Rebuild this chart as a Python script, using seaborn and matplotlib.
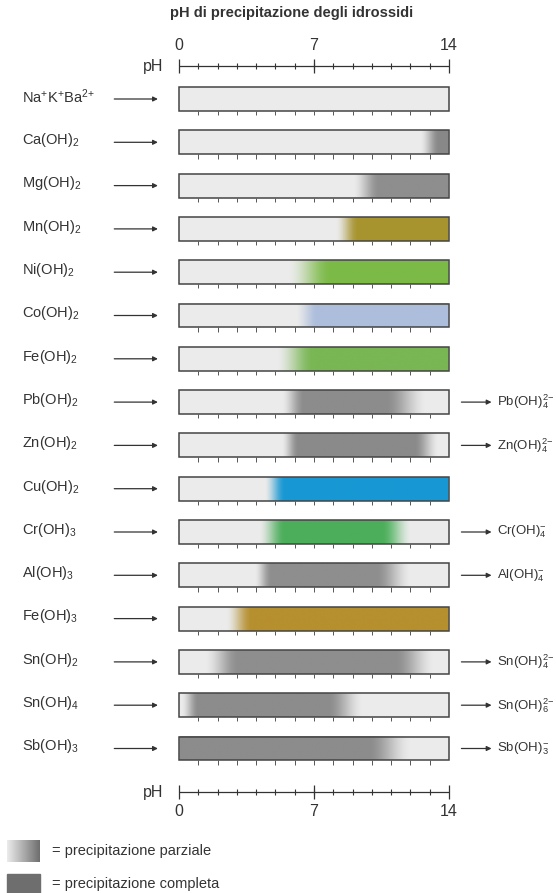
import numpy as np
import seaborn as sns
import matplotlib.pyplot as plt
from matplotlib import font_manager

# hydroxide rows, top to bottom
names = ["Na$^{+}$K$^{+}$Ba$^{2{+}}$", "Ca(OH)$_2$", "Mg(OH)$_2$", "Mn(OH)$_2$", "Ni(OH)$_2$",
         "Co(OH)$_2$", "Fe(OH)$_2$", "Pb(OH)$_2$", "Zn(OH)$_2$", "Cu(OH)$_2$",
         "Cr(OH)$_3$", "Al(OH)$_3$", "Fe(OH)$_3$", "Sn(OH)$_2$", "Sn(OH)$_4$", "Sb(OH)$_3$"]
# pH where partial precipitation starts, complete starts, complete ends, partial ends
p_start = [np.nan, 12.5, 9.0, 8.1, 5.6, 6.0, 5.0, 5.3, 5.3, 4.4, 4.1, 3.9, 2.4, 1.3, 0.1, 0.0]
c_start = [np.nan, 13.5, 10.4, 9.3, 7.9, 7.2, 7.0, 6.5, 6.2, 5.5, 5.5, 4.8, 3.8, 3.1, 1.0, 0.0]
c_end = [np.nan, 14, 14, 14, 14, 14, 14, 10.7, 12.2, 14, 10.5, 10.2, 14, 11.2, 7.7, 9.8]
p_end = [np.nan, 14, 14, 14, 14, 14, 14, 12.9, 13.5, 14, 12.1, 12.1, 14, 13.3, 9.6, 12.1]
colors = ["#8c8c8c", "#888888", "#8e8e8e", "#a8942f", "#7cba47", "#adbedc", "#79b654",
          "#8c8c8c", "#8a8a8a", "#1798d4", "#4cae5a", "#8e8e8e", "#b68f2e", "#8e8e8e",
          "#8c8c8c", "#8c8c8c"]
complexes = [None, None, None, None, None, None, None, "Pb(OH)$_4^{2{-}}$", "Zn(OH)$_4^{2{-}}$",
             None, "Cr(OH)$_4^{{-}}$", "Al(OH)$_4^{{-}}$", None, "Sn(OH)$_4^{2{-}}$",
             "Sn(OH)$_6^{2{-}}$", "Sb(OH)$_3^{{-}}$"]
ph_labels = [0, 7, 14]

sns.set_theme(style="white")
installed = {f.name for f in font_manager.fontManager.ttflist}
narrow = "Liberation Sans Narrow" if "Liberation Sans Narrow" in installed else "Liberation Sans"
plt.rcParams["font.family"] = [narrow, "DejaVu Sans"]
plt.rcParams["mathtext.fontset"] = "custom"
plt.rcParams["mathtext.rm"] = narrow
plt.rcParams["mathtext.default"] = "regular"

light = np.array([0.925, 0.925, 0.925])
ink = "#333333"

fig = plt.figure(figsize=(5.56, 8.93), dpi=100)
ax = fig.add_axes([0, 0, 1, 1])
# pixel layout: pH 0 at x=179, pH 14 at x=449; row pitch 43.3 px, first row at y=99
ppu = 270 / 14
ax.set_xlim(-179 / ppu, (556 - 179) / ppu)
ax.set_ylim((893 - 99) / 43.3, -99 / 43.3)
ax.axis("off")

h = 0.55
xs = np.linspace(0, 14, 700)
for i, name in enumerate(names):
    f = np.zeros_like(xs)
    if not np.isnan(p_start[i]):
        up = np.clip((xs - p_start[i]) / max(c_start[i] - p_start[i], 1e-6), 0, 1)
        down = np.clip((p_end[i] - xs) / max(p_end[i] - c_end[i], 1e-6), 0, 1)
        f = np.minimum(up, down)
        f = f * f * (3 - 2 * f)  # soften the ramps
    col = np.array(plt.matplotlib.colors.to_rgb(colors[i]))
    img = light[None, :] * (1 - f[:, None]) + col[None, :] * f[:, None]
    ax.imshow(img[None, :, :], extent=(0, 14, i + h / 2, i - h / 2), aspect="auto",
              interpolation="bilinear", zorder=1)
    ax.add_patch(plt.Rectangle((0, i - h / 2), 14, h, fill=False, ec="#444444", lw=1.1, zorder=2))
    # small ticks under the bar
    ax.vlines(np.arange(1, 14), i + h / 2, i + h / 2 + 0.1, color="#555555", lw=0.7, zorder=2)
    ax.text(-8.15, i - 0.05, name, fontsize=10.5, color=ink, va="center", ha="left")
    ax.annotate("", xy=(-0.95, i), xytext=(-3.5, i),
                arrowprops=dict(arrowstyle="-|>", color=ink, lw=0.9, mutation_scale=7))
    if complexes[i]:
        ax.annotate("", xy=(16.35, i), xytext=(14.5, i),
                    arrowprops=dict(arrowstyle="-|>", color=ink, lw=0.9, mutation_scale=7))
        ax.text(16.5, i, complexes[i], fontsize=9.5, color=ink, va="center", ha="left")


def ph_axis(y, label_y):
    ax.hlines(y, 0, 14, color=ink, lw=0.9)
    ax.vlines(np.arange(1, 14), y - 0.07, y + 0.07, color=ink, lw=0.8)
    ax.vlines(ph_labels, y - 0.17, y + 0.17, color=ink, lw=0.9)
    for v in ph_labels:
        ax.text(v, label_y, str(v), fontsize=11.5, color=ink, ha="center", va="center")
    ax.text(-0.8, y, "pH", fontsize=11.5, color=ink, ha="right", va="center")


ph_axis((66 - 99) / 43.3, (45 - 99) / 43.3)
ph_axis((792 - 99) / 43.3, (811 - 99) / 43.3)

ax.text((292 - 179) / ppu, (13 - 99) / 43.3, "pH di precipitazione degli idrossidi",
        fontsize=10.5, fontweight="bold", color=ink, ha="center", va="center",
        family="Liberation Sans")

# legend swatches
grad = np.linspace(0, 1, 100)
gray = np.array(plt.matplotlib.colors.to_rgb("#6e6e6e"))
sw = light[None, :] * (1 - grad[:, None]) + gray[None, :] * grad[:, None]
x0, x1 = (7 - 179) / ppu, (40 - 179) / ppu
ax.imshow(sw[None, :, :], extent=(x0, x1, (862 - 99) / 43.3, (841 - 99) / 43.3),
          aspect="auto", interpolation="bilinear")
ax.add_patch(plt.Rectangle((x0, (874 - 99) / 43.3), x1 - x0, 19 / 43.3, color="#6e6e6e"))
ax.text((52 - 179) / ppu, (851 - 99) / 43.3, "= precipitazione parziale", fontsize=10.5,
        color=ink, va="center")
ax.text((52 - 179) / ppu, (884 - 99) / 43.3, "= precipitazione completa", fontsize=10.5,
        color=ink, va="center")

fig.savefig("out.png", dpi=100, facecolor="white")
